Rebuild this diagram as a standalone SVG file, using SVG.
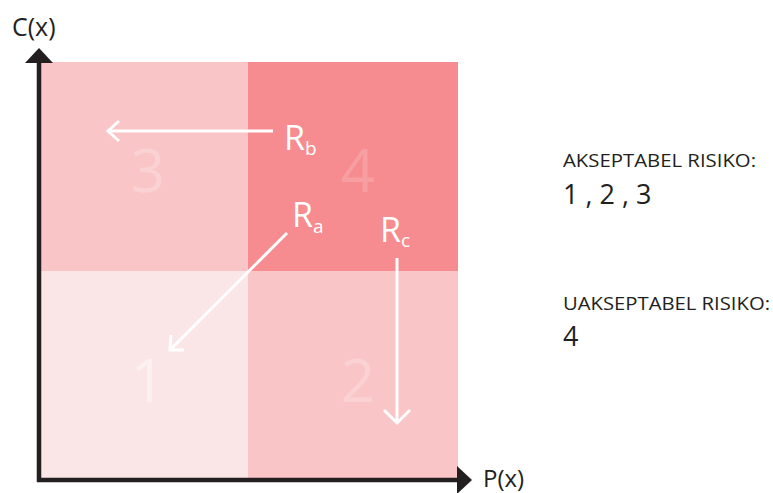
<svg xmlns="http://www.w3.org/2000/svg" width="773" height="493" viewBox="0 0 773 493">
  <defs>
    <style>
      .lbl { font-family: "Open Sans", "Liberation Sans", sans-serif; fill: #231f20; }
      .num { font-family: "Open Sans", "Liberation Sans", sans-serif; font-size: 60px; text-anchor: middle; }
      .rl { font-family: "Open Sans", "Liberation Sans", sans-serif; fill: #ffffff; font-size: 34px; }
      .rs { font-size: 19px; }
      .vec { stroke: #ffffff; stroke-width: 3; fill: none; stroke-linecap: butt; }
      .head { stroke: #ffffff; stroke-width: 3; fill: none; stroke-linejoin: miter; }
      .axis { stroke: #231f20; stroke-width: 4.5; fill: none; }
    </style>
  </defs>
  <rect width="773" height="493" fill="#ffffff"/>

  <!-- risk matrix quadrants -->
  <g id="q3"><rect x="40" y="62" width="208" height="209" fill="#f9c5c7"/>
    <text class="num" x="148" y="192" fill="#fbd2d4">3</text></g>
  <g id="q4"><rect x="248" y="62" width="210" height="209" fill="#f68c90"/>
    <text class="num" x="358" y="192" fill="#f79ea2">4</text></g>
  <g id="q1"><rect x="40" y="271" width="208" height="207" fill="#fbe6e7"/>
    <text class="num" x="148" y="402" fill="#fdf0f0">1</text></g>
  <g id="q2"><rect x="248" y="271" width="210" height="207" fill="#f9c5c7"/>
    <text class="num" x="358" y="402" fill="#fbd2d4">2</text></g>

  <!-- axes -->
  <g id="axes">
    <line class="axis" x1="39" y1="482" x2="39" y2="60"/>
    <polygon points="39,48 25,63 53,63" fill="#231f20"/>
    <line class="axis" x1="37" y1="480" x2="460" y2="480"/>
    <polygon points="472,480 457,466 457,494" fill="#231f20"/>
    <text class="lbl" x="12" y="36" font-size="25">C(x)</text>
    <text class="lbl" x="483" y="487" font-size="24">P(x)</text>
  </g>

  <!-- risk movement vectors -->
  <g id="connectors">
    <line class="vec" x1="273" y1="131" x2="109" y2="131"/>
    <polyline class="head" points="119,121 108,131 119,141"/>
    <line class="vec" x1="287" y1="233" x2="171" y2="349"/>
    <polyline class="head" points="171,335 170,350 184,350"/>
    <line class="vec" x1="397" y1="258" x2="397" y2="421"/>
    <polyline class="head" points="384,410 397,423 410,410"/>
  </g>

  <g id="Rb"><text class="rl" x="284" y="150">R<tspan class="rs" dy="5">b</tspan></text></g>
  <g id="Ra"><text class="rl" x="292" y="227">R<tspan class="rs" dy="6">a</tspan></text></g>
  <g id="Rc"><text class="rl" x="380" y="242">R<tspan class="rs" dy="5">c</tspan></text></g>

  <!-- legend -->
  <g id="legend">
    <text class="lbl" x="563" y="167" font-size="18.5" textLength="193" lengthAdjust="spacingAndGlyphs">AKSEPTABEL RISIKO:</text>
    <text class="lbl" x="563" y="204" font-size="27">1 , 2 , 3</text>
    <text class="lbl" x="563" y="310" font-size="18.5" textLength="207" lengthAdjust="spacingAndGlyphs">UAKSEPTABEL RISIKO:</text>
    <text class="lbl" x="563" y="346" font-size="27">4</text>
  </g>
</svg>
